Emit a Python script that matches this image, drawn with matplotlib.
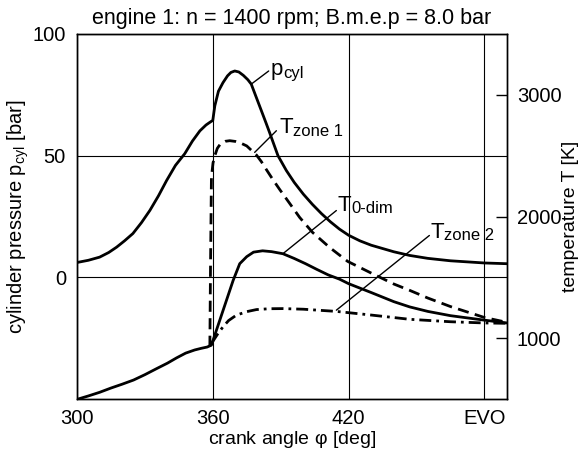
import matplotlib
matplotlib.use("Agg")
import matplotlib.pyplot as plt

plt.rcParams['font.family'] = ['Liberation Sans', 'DejaVu Sans']
plt.rcParams['mathtext.fontset'] = 'custom'
plt.rcParams['mathtext.rm'] = 'Liberation Sans'
plt.rcParams['mathtext.it'] = 'Liberation Sans'

# ---- data ----
angle_p = [300, 305, 310, 314, 317.5, 321, 324.7, 328.5, 332.2, 336, 339.6, 343.5, 347.6, 351,
           354.3, 357, 358.7, 360, 360.9, 362.5, 364.5, 366.5, 368, 369.7, 371.5, 373.5, 375.5,
           377, 379, 381.5, 383.5, 385.1, 388.8, 392.5, 396, 400, 404, 408, 412, 416, 420,
           425, 430, 440, 447, 455, 465, 480, 490]
p_cyl = [6.1, 7.0, 8.3, 10.2, 12.4, 15.0, 18.0, 22.5, 27.5, 33.5, 39.8, 46.0, 50.8, 56.0,
         60.2, 62.6, 63.7, 64.5, 70.5, 76.5, 80.0, 82.8, 84.2, 84.8, 84.4, 83.0, 81.2,
         79.4, 74.5, 68.4, 63.5, 59.5, 50.0, 43.9, 39.0, 34.2, 30.0, 26.2, 22.8, 19.8, 17.3,
         15.0, 13.2, 10.5, 9.0, 7.8, 6.8, 5.9, 5.6]

angle_T0 = [300, 305, 310, 315, 320, 325, 330, 335, 340, 344, 348, 352, 355, 357.5, 359.4,
            364, 369, 371.9, 375, 378, 382, 386, 391, 396, 401, 406, 411, 416, 420, 430,
            440, 447, 455, 465, 480, 490]
T_0dim = [497, 525, 555, 590, 622, 656, 700, 748, 795, 838, 877, 903, 917, 927, 943,
          1198, 1475, 1612, 1670, 1707, 1718, 1711, 1694, 1655, 1612, 1565, 1520, 1485,
          1448, 1375, 1300, 1257, 1220, 1185, 1148, 1125]

angle_T1 = [358.7, 359.0, 359.4, 360.1, 360.9, 362, 363.5, 365.5, 367.5, 370, 372.5, 375,
            377, 379.3, 381.5, 383.7, 386.5, 389.6, 394, 398.4, 404.1, 411.6, 419.6, 430,
            440, 447, 455, 465, 480, 490]
T_zone1 = [929, 1600, 2322, 2440, 2500, 2560, 2600, 2618, 2623, 2617, 2602, 2580,
           2545, 2505, 2450, 2385, 2305, 2221, 2107, 1992, 1869, 1746, 1631, 1535,
           1445, 1393, 1330, 1260, 1170, 1130]

angle_T2 = [359.4, 362, 364.5, 367, 370.4, 375, 379.3, 385, 391, 400, 408, 414.6, 430, 447,
            465, 480, 490]
T_zone2 = [956, 1030, 1093, 1145, 1189, 1218, 1235, 1242, 1243, 1238, 1228, 1220, 1190, 1155,
           1135, 1125, 1122]

x_ticks = [300, 360, 420, 480]
x_ticklabels = ['300', '360', '420', 'EVO']
p_ticks = [0, 50, 100]
T_ticks = [1000, 2000, 3000]

# ---- figure ----
fig = plt.figure(figsize=(5.85, 4.53), dpi=100)
ax = fig.add_axes([77/585, 1-399/453, 430/585, 365/453])
ax2 = ax.twinx()

lw = 2.0
ax.plot(angle_p, p_cyl, color='black', lw=lw, solid_joinstyle='round')
ax2.plot(angle_T0, T_0dim, color='black', lw=lw, solid_joinstyle='round')
ax2.plot(angle_T1, T_zone1, color='black', lw=lw, linestyle=(0, (4, 2.3)))
ax2.plot(angle_T2, T_zone2, color='black', lw=lw, linestyle=(0, (4.3, 1.8, 1, 1.8)))

ax.set_xlim(300, 490)
ax.set_ylim(-50, 100)
ax2.set_ylim(500, 3500)

ax.set_xticks(x_ticks)
ax.set_xticklabels(x_ticklabels)
ax.set_yticks(p_ticks)
ax2.set_yticks(T_ticks)

ax.tick_params(axis='x', length=0, labelsize=14.5, pad=7)
ax.tick_params(axis='y', length=0, labelsize=14.5, pad=8)
ax2.tick_params(axis='y', direction='in', length=8, width=1, labelsize=14.5, pad=7)

ax.grid(True, color='black', lw=0.8)
ax.set_axisbelow(True)
for a in (ax, ax2):
    for s in a.spines.values():
        s.set_linewidth(1.0)

ax.set_xlabel(r'crank angle $\mathrm{\varphi}$ [deg]', fontsize=14, labelpad=1)
ax.set_ylabel(r'cylinder pressure p$_{\mathrm{cyl}}$ [bar]', fontsize=14.5)
ax.yaxis.set_label_coords(-0.107, 0.5)
ax2.set_ylabel('temperature T [K]', fontsize=14)
ax2.yaxis.set_label_coords(1.128, 0.5)
ax.set_title('engine 1: n = 1400 rpm; B.m.e.p = 8.0 bar', fontsize=15.5, pad=7)

# annotations: leader line from curve point to label, label = main letter + subscript
line_kw = dict(arrowstyle='-', color='black', lw=1, shrinkA=0, shrinkB=0)


def label(a, main, sub, curve_pt, end_pt, off, main_w):
    a.annotate('', xy=curve_pt, xytext=end_pt, arrowprops=line_kw)
    a.annotate(main, xy=end_pt, xytext=off, textcoords='offset points',
               fontsize=16, ha='left', va='baseline')
    a.annotate(sub, xy=end_pt, xytext=(off[0] + main_w, off[1] - 2),
               textcoords='offset points', fontsize=12, ha='left', va='baseline')


label(ax, 'p', 'cyl', (377, 79.4), (384.7, 84.8), (1, -3), 9.2)
label(ax2, 'T', 'zone 1', (378.5, 2527), (388.1, 2705), (2.2, -1.5), 10.0)
label(ax2, 'T', '0-dim', (391.3, 1699), (414.6, 2049), (0.5, 0), 10.0)
label(ax2, 'T', 'zone 2', (414.6, 1230), (455.7, 1844), (0.5, -1.5), 10.0)

fig.savefig('out.png', dpi=100)
